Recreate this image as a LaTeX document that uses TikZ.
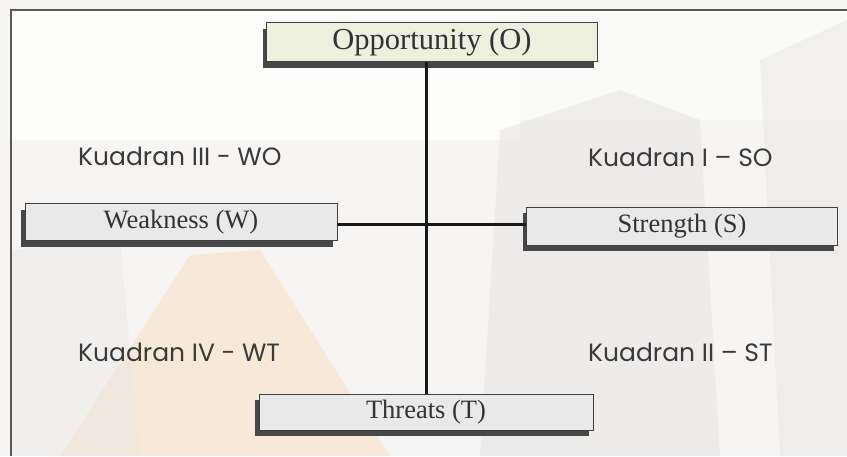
\documentclass[tikz,border=0pt]{standalone}
\usepackage{fontspec}
\setmainfont{Liberation Serif}
\newfontfamily\quadfont{Poppins}
\usetikzlibrary{shadows}
\definecolor{boxgray}{HTML}{E9E9E9}
\definecolor{boxgreen}{HTML}{EEF0DF}
\definecolor{bgbase}{HTML}{F6F5F4}
\definecolor{bgpeach}{HTML}{F6E7D2}
\definecolor{bggray}{HTML}{E9E7E6}
\definecolor{quadtext}{HTML}{3A3A3A}
\begin{document}
\begin{tikzpicture}[x=1pt,y=-1pt,
  box/.style={draw=black!75, line width=0.8pt, fill=boxgray, inner sep=0pt,
    text=black!80, font=\fontsize{26.5}{28}\selectfont,
    drop shadow={shadow xshift=-4pt, shadow yshift=-6pt, opacity=1, fill=black!72}},
  quad/.style={anchor=west, inner sep=0pt, text=quadtext, font=\quadfont\fontsize{25}{27}\selectfont},
  conn/.style={line width=3pt, draw=black!90}
]
\useasboundingbox (0,0) rectangle (847,456);
% faint background
\fill[bgbase] (0,0) rectangle (847,456);
\fill[white, opacity=0.8] (11,10) rectangle (520,140);
\fill[white, opacity=0.5] (520,10) rectangle (847,120);
\fill[bgpeach, opacity=0.8] (60,456) -- (190,255) -- (260,250) -- (390,456) -- cycle;
\fill[bggray, opacity=0.6] (500,130) -- (620,90) -- (700,120) -- (720,456) -- (480,456) -- cycle;
\fill[bggray, opacity=0.5] (760,60) -- (847,20) -- (847,456) -- (780,456) -- cycle;
\fill[bggray, opacity=0.4] (11,250) -- (120,240) -- (140,456) -- (11,456) -- cycle;
% frame
\draw[line width=2pt, black!65] (11,456) -- (11,10) -- (847,10);
% boxes
\node[box, fill=boxgreen, minimum width=331pt, minimum height=39pt, font=\fontsize{30.5}{32}\selectfont] (O) at (432,42) {Opportunity (O)};
\node[box, minimum width=312pt, minimum height=37pt] (W) at (181,222) {Weakness (W)};
\node[box, minimum width=311pt, minimum height=38pt] (S) at (682,226) {Strength (S)};
\node[box, minimum width=334pt, minimum height=36pt] (T) at (426,412) {Threats (T)};
% connectors
\coordinate (hc) at (425,224);
\draw[conn] (T.north |- O.south) -- (T.north);
\draw[conn] (W.east |- hc) -- (S.west |- hc);
% quadrant labels
\node[quad] (q3) at (78,156) {Kuadran III - WO};
\node[quad] (q1) at (588,157) {Kuadran I – SO};
\node[quad] (q4) at (78,352) {Kuadran IV - WT};
\node[quad] (q2) at (588,352) {Kuadran II – ST};
\end{tikzpicture}
\end{document}
